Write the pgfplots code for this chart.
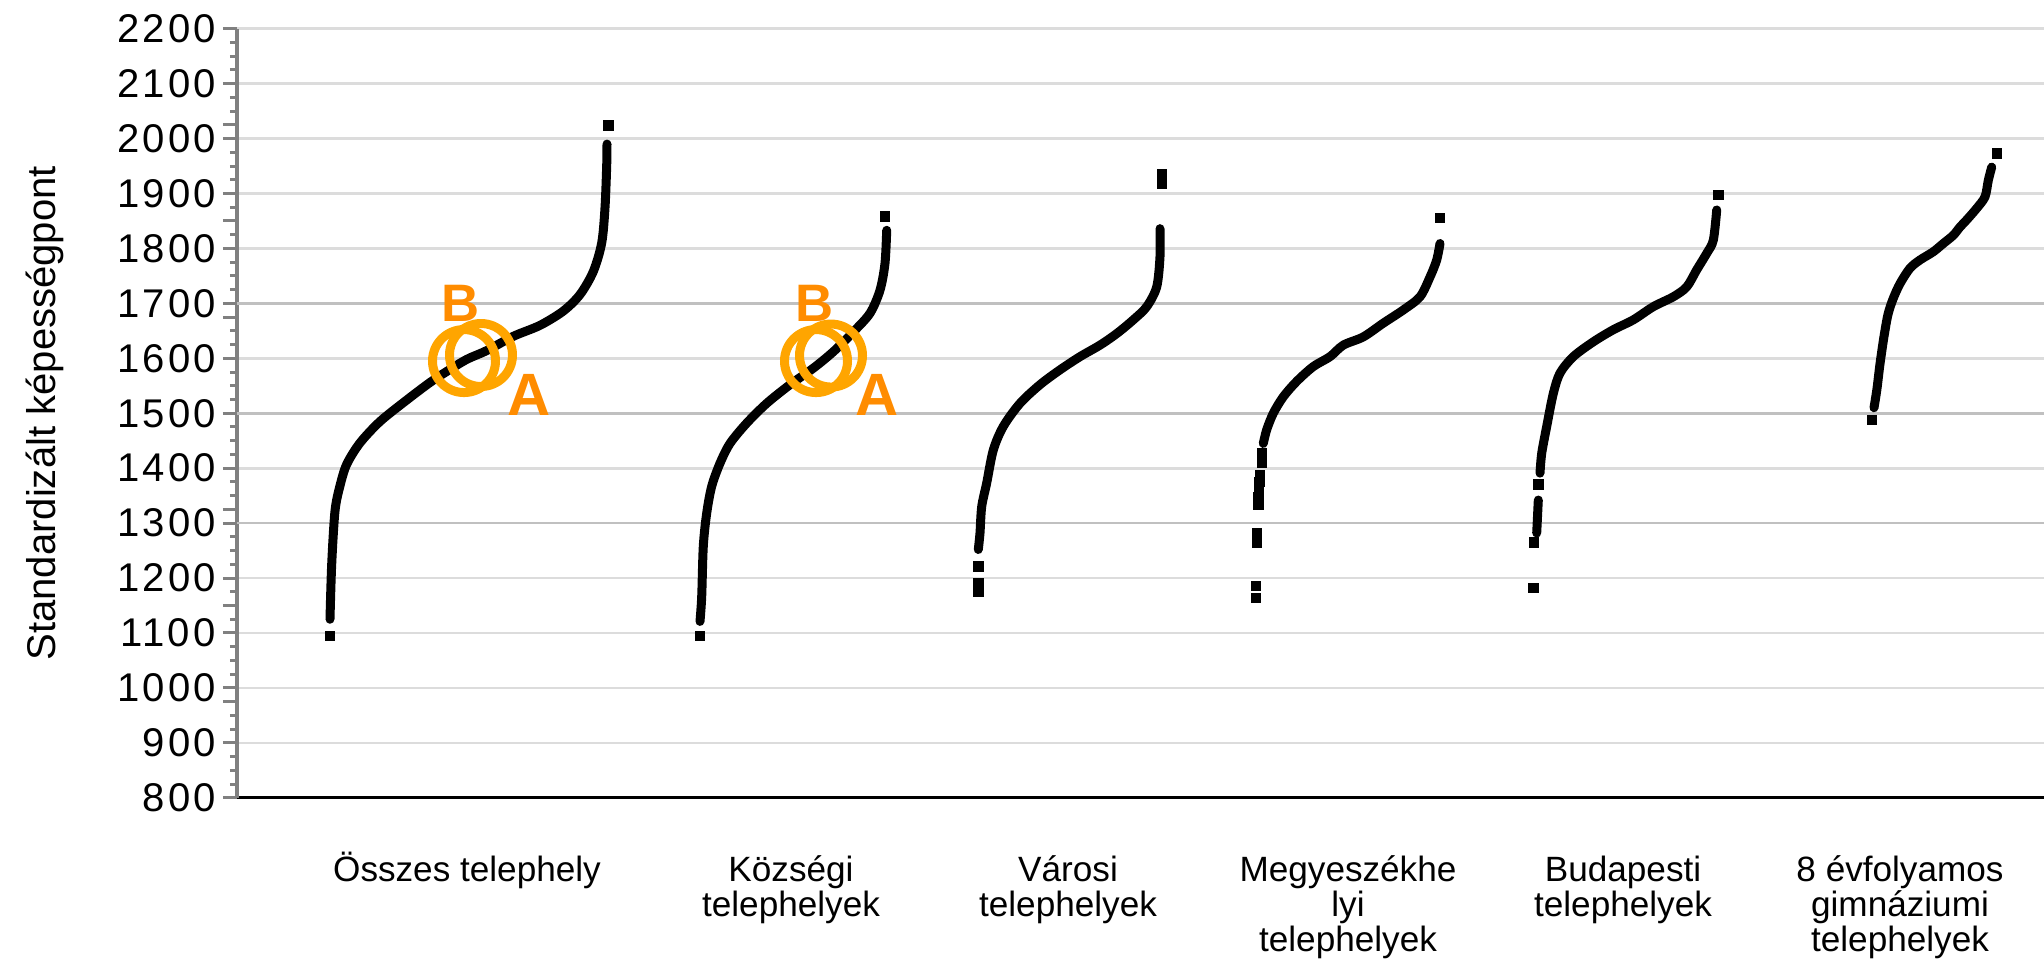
\documentclass[border=0pt]{standalone}
\usepackage{fontspec}
\setmainfont{Liberation Sans}
\newfontfamily\tickfam[LetterSpace=8]{Liberation Sans}
\usepackage{pgfplots}
\pgfplotsset{compat=1.18}
\definecolor{gridlight}{RGB}{220,220,220}
\definecolor{griddark}{RGB}{192,192,192}
\definecolor{axisgray}{RGB}{128,128,128}
\definecolor{ringor}{RGB}{255,165,0}
\definecolor{letteror}{RGB}{255,140,0}
\newcommand{\tickfont}{\tickfam\fontsize{11.4}{13}\selectfont}
\newcommand{\labfont}{\fontsize{11.4}{13}\selectfont}
\newcommand{\catfont}{\fontsize{10}{10}\selectfont}
\newcommand{\st}{\rule{0pt}{0.35cm}}
\begin{document}
\begin{tikzpicture}
\begin{axis}[
  scale only axis,
  width=18.07cm, height=7.691cm,
  xmin=237, xmax=2044, ymin=800, ymax=2200,
  axis x line*=bottom, axis y line*=left,
  x axis line style={black, line width=0.03cm, -},
  y axis line style={axisgray, line width=0.04cm, -},
  xtick={467,791,1068,1348,1623,1900},
  xticklabels={{\st Összes telephely},{\st Községi\\telephelyek},{\st Városi\\telephelyek},{\st Megyeszékhe\\lyi\\telephelyek},{\st Budapesti\\telephelyek},{\st 8 évfolyamos\\gimnáziumi\\telephelyek}},
  xtick style={draw=none},
  xticklabel style={font=\catfont, align=center, anchor=north, inner sep=0pt, yshift=-0.34cm},
  ytick={800,900,...,2200},
  minor y tick num=3,
  ymajorgrids,
  major grid style={gridlight, line width=0.027cm},
  tick align=outside,
  major tick length=0.14cm, minor tick length=0.07cm,
  ytick style={axisgray, line width=0.03cm},
  yticklabel style={font=\tickfont, anchor=east, inner sep=0pt, xshift=-0.065cm},
  /pgf/number format/assume math mode=true,
  /pgf/number format/1000 sep={},
  extra y ticks={975,1150,1325,1500,1675,1850,2025},
  extra y tick labels={},
  extra y tick style={grid=none, tick style={black, line width=0.035cm}},
  ylabel={Standardizált képességpont},
  ylabel style={font=\labfont, at={(axis description cs:-0.1065,0.5)}, anchor=center},
]
\coordinate (ll) at (rel axis cs:0,0);
% darker gridlines
\addplot[griddark, line width=0.027cm] coordinates {(237,1300) (2044,1300)};
\addplot[griddark, line width=0.027cm] coordinates {(237,1500) (2044,1500)};
\addplot[griddark, line width=0.027cm] coordinates {(237,1700) (2044,1700)};
% curves
\pgfplotsset{curve/.style={black, line width=0.09cm, smooth, tension=0.5, line cap=round}, dots/.style={only marks, mark=square*, mark size=0.045cm, mark options={black, draw=black}}}
\addplot[curve] coordinates {(330,1125) (331.7,1225) (335,1322) (340,1368) (346.7,1407) (360,1446) (380,1485) (406.7,1524) (430,1556) (446.7,1576) (466.7,1598) (486.7,1614) (513.3,1640) (540,1660) (563.3,1686) (580,1716) (593.3,1758) (601.7,1810) (605,1874) (606.7,1951) (607,1990)};
\addplot[dots] coordinates {(330,1095) (608.3,2024)};
\addplot[curve] coordinates {(700,1121) (701.7,1166) (703.3,1258) (706.7,1318) (711.7,1367) (720,1409) (730,1445) (746.7,1482) (766.7,1518) (790,1552) (813.3,1582) (833.3,1612) (853.3,1648) (870,1682) (880,1724) (885,1773) (886.7,1833)};
\addplot[dots] coordinates {(700,1094) (885,1858)};
\addplot[curve] coordinates {(978.3,1252) (980,1282) (981.7,1330) (986.7,1373) (993.3,1433) (1003.3,1476) (1020,1518) (1040,1552) (1060,1579) (1080,1603) (1100,1624) (1116.7,1645) (1133.3,1670) (1146.7,1694) (1156.7,1730) (1160,1785) (1160,1836)};
\addplot[dots] coordinates {(978.3,1221) (978.3,1190) (978.3,1175) (1161.7,1918) (1161.7,1936)};
\addplot[curve] coordinates {(1263.3,1445) (1266.7,1470) (1273.3,1500) (1283.3,1530) (1296.7,1558) (1313.3,1585) (1330,1603) (1343.3,1624) (1363.3,1639) (1383.3,1664) (1403.3,1688) (1420,1712) (1430,1748) (1436.7,1779) (1440,1809)};
\addplot[dots] coordinates {(1261.7,1427) (1261.7,1409) (1260,1388) (1259.5,1375) (1259,1362) (1258.3,1348) (1258.3,1333) (1256.7,1282) (1256.7,1264) (1256,1185) (1256,1164) (1440,1855)};
\addplot[curve] coordinates {(1540,1391) (1541.7,1427) (1546.7,1476) (1553.3,1536) (1560,1573) (1573.3,1603) (1593.3,1630) (1613.3,1652) (1633.3,1670) (1653.3,1694) (1673.3,1712) (1686.7,1730) (1696.7,1761) (1706.7,1791) (1713.3,1815) (1716.7,1870)};
\addplot[curve] coordinates {(1538.3,1342) (1536.7,1282)};
\addplot[dots] coordinates {(1538.3,1370) (1534,1265) (1533.3,1182) (1718.3,1897)};
\addplot[curve] coordinates {(1874,1510) (1877,1545) (1880,1590) (1884,1640) (1888,1680) (1893,1708) (1900,1736) (1910,1764) (1920,1779) (1933.3,1794) (1943.3,1809) (1953.3,1824) (1960,1839) (1966.7,1852) (1976.7,1873) (1985,1894) (1988.3,1924) (1991.7,1948)};
\addplot[dots] coordinates {(1872,1488) (1996.7,1973)};
% annotation rings
\addplot[only marks, mark=o, mark size=0.315cm, mark options={draw=ringor, line width=0.09cm}] coordinates {(464,1595) (481,1606) (816,1595) (831,1605)};
\node[anchor=base, inner sep=0pt, text=letteror, font=\fontsize{15}{15}\bfseries\selectfont] at (axis cs:461,1666.6) {B};
\node[anchor=base, inner sep=0pt, text=letteror, font=\fontsize{17}{17}\bfseries\selectfont] at (axis cs:529,1496.7) {A};
\node[anchor=base, inner sep=0pt, text=letteror, font=\fontsize{15}{15}\bfseries\selectfont] at (axis cs:815,1666.6) {B};
\node[anchor=base, inner sep=0pt, text=letteror, font=\fontsize{17}{17}\bfseries\selectfont] at (axis cs:876.7,1496.7) {A};
\end{axis}
\pgfresetboundingbox
\path[use as bounding box] (ll) ++(-2.37cm,-1.612cm) rectangle ++(20.44cm,9.59cm);
\end{tikzpicture}
\end{document}
